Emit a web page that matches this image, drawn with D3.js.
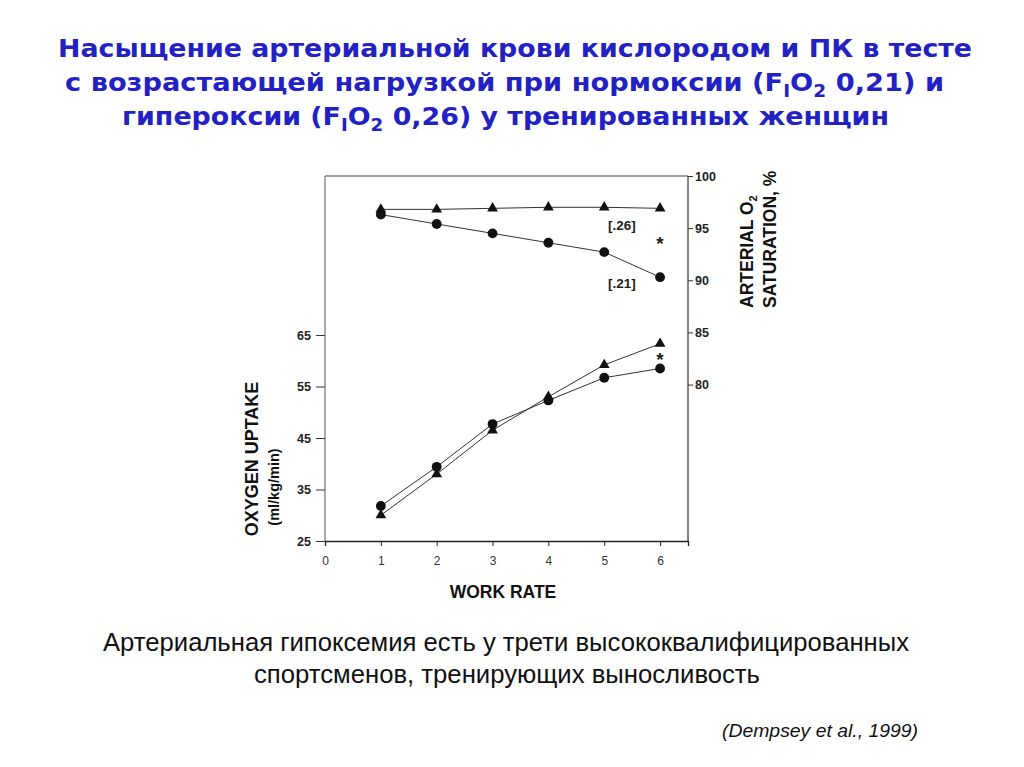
<!DOCTYPE html>
<html><head><meta charset="utf-8">
<script src="https://cdn.jsdelivr.net/npm/d3@7"></script>
<style>
html,body{margin:0;padding:0;background:#fff;}
svg{display:block;}
</style></head>
<body>
<svg id="chart" width="1024" height="767"></svg>
<script>
// ---- data ----
const workRate = [1, 2, 3, 4, 5, 6];
const xTicks = [0, 1, 2, 3, 4, 5, 6];
const leftTicks = [25, 35, 45, 55, 65];
const rightTicks = [80, 85, 90, 95, 100];
const sat26 = [96.8, 96.8, 96.9, 97.0, 97.0, 96.9];
const sat21 = [96.3, 95.4, 94.5, 93.6, 92.7, 90.3];
const vo2_21 = [31.8, 39.4, 47.7, 52.3, 56.7, 58.5];
const vo2_26 = [30.0, 38.0, 46.5, 53.0, 59.2, 63.3];
const titleLines = [
  [{t:"Насыщение артериальной крови кислородом и ПК в тесте"}],
  [{t:"с возрастающей нагрузкой при нормоксии (F"},{t:"I",sub:true},{t:"O"},{t:"2",sub:true},{t:" 0,21) и"}],
  [{t:"гипероксии (F"},{t:"I",sub:true},{t:"O"},{t:"2",sub:true},{t:" 0,26) у тренированных женщин"}]
];
const captionLines = ["Артериальная гипоксемия есть у трети высококвалифицированных",
                      "спортсменов, тренирующих выносливость"];
const citation = "(Dempsey et al., 1999)";

const svg = d3.select("#chart");
const L = 325, R = 688, T = 176, B = 541;

const x = d3.scaleLinear().domain([0, 6.5]).range([L, R]);
const yL = d3.scaleLinear().domain([25, 65]).range([B, 335]);
const yR = d3.scaleLinear().domain([65, 100]).range([B, T]);

// ---- title ----
const titleColor = "#2222c4";
const tl = [{y:57, x0:58, x1:972}, {y:91, x0:65, x1:944}, {y:125, x0:122, x1:889}];
titleLines.forEach((parts, i) => {
  const t = svg.append("text")
    .attr("x", (tl[i].x0 + tl[i].x1) / 2).attr("y", tl[i].y)
    .attr("text-anchor", "middle")
    .attr("textLength", tl[i].x1 - tl[i].x0)
    .attr("lengthAdjust", "spacingAndGlyphs")
    .style("font-family", "'DejaVu Sans', sans-serif")
    .style("font-weight", "bold").style("font-size", "25px")
    .style("fill", titleColor);
  parts.forEach((p, j) => {
    const s = t.append("tspan").text(p.t);
    if (p.sub) s.attr("dy", 6).style("font-size", "17px");
    else if (j > 0 && parts[j-1].sub) s.attr("dy", -6);
  });
});

// ---- frame ----
const frame = svg.append("g").attr("fill", "none");
frame.append("line").attr("x1", L).attr("x2", R).attr("y1", T).attr("y2", T).attr("stroke-width", 1.1).attr("stroke", "#444");
frame.append("line").attr("x1", L).attr("x2", L).attr("y1", T).attr("y2", B).attr("stroke-width", 1).attr("stroke", "#555");

// ---- axes ----
const axFont = "'Liberation Sans', Arial, sans-serif";
const gx = svg.append("g").attr("transform", `translate(0,${B})`)
  .call(d3.axisBottom(x).tickValues(xTicks).tickSize(5).tickPadding(10).tickFormat(d3.format("d")));
gx.select(".domain").attr("stroke", "#222").attr("stroke-width", 1.3);
gx.selectAll(".tick line").attr("stroke", "#222");
gx.selectAll(".tick text").style("font-family", axFont).style("font-size", "12px").style("fill", "#333");

const gl = svg.append("g").attr("transform", `translate(${L},0)`)
  .call(d3.axisLeft(yL).tickValues(leftTicks).tickSize(9).tickPadding(5));
gl.select(".domain").remove();
gl.selectAll(".tick line").attr("stroke", "#333");
gl.selectAll(".tick text").style("font-family", axFont).style("font-size", "12.5px").style("font-weight", "bold").style("fill", "#222");

const gr = svg.append("g").attr("transform", `translate(${R},0)`)
  .call(d3.axisRight(yR).tickValues(rightTicks).tickSize(5).tickPadding(2));
gr.select(".domain").attr("d", `M0,${B}V${T}`).attr("stroke", "#333").attr("stroke-width", 1.2);
gr.selectAll(".tick line").attr("stroke", "#333");
gr.selectAll(".tick text").style("font-family", axFont).style("font-size", "12.5px").style("font-weight", "bold").style("fill", "#222");

// ---- axis titles ----
svg.append("text").attr("x", 503).attr("y", 598).attr("text-anchor", "middle")
  .style("font-family", axFont).style("font-weight", "bold").style("font-size", "17.5px").style("fill", "#111")
  .text("WORK RATE");

svg.append("text").attr("transform", "translate(258,459) rotate(-90)").attr("text-anchor", "middle")
  .style("font-family", axFont).style("font-weight", "bold").style("font-size", "18px").style("fill", "#111")
  .text("OXYGEN UPTAKE");
svg.append("text").attr("transform", "translate(279,487) rotate(-90)").attr("text-anchor", "middle")
  .style("font-family", axFont).style("font-weight", "bold").style("font-size", "14.5px").style("fill", "#111")
  .text("(ml/kg/min)");

const ra = svg.append("text").attr("transform", "translate(753,308) rotate(-90)").attr("text-anchor", "start")
  .style("font-family", axFont).style("font-weight", "bold").style("font-size", "17.5px").style("fill", "#111");
ra.append("tspan").text("ARTERIAL O");
ra.append("tspan").text("2").attr("dy", 4).style("font-size", "11px");
svg.append("text").attr("transform", "translate(776,308) rotate(-90)").attr("text-anchor", "start")
  .style("font-family", axFont).style("font-weight", "bold").style("font-size", "17.5px").style("fill", "#111")
  .text("SATURATION, %");

// ---- series ----
const series = [
  {vals: sat26, y: yR, shape: "tri"},
  {vals: sat21, y: yR, shape: "circ"},
  {vals: vo2_21, y: yL, shape: "circ"},
  {vals: vo2_26, y: yL, shape: "tri"}
];
const lineGen = (ys) => d3.line().x((d, i) => x(workRate[i])).y(d => ys(d));
series.forEach(s => {
  svg.append("path").datum(s.vals).attr("d", lineGen(s.y))
    .attr("fill", "none").attr("stroke", "#333").attr("stroke-width", 1);
});
const triSym = d3.symbol().type(d3.symbolTriangle).size(50);
const circSym = d3.symbol().type(d3.symbolCircle).size(76);
series.forEach(s => {
  svg.append("g").selectAll("path").data(s.vals).join("path")
    .attr("d", s.shape === "tri" ? triSym : circSym)
    .attr("transform", (d, i) => `translate(${x(workRate[i])},${s.y(d)})`)
    .attr("fill", "#111");
});

// ---- annotations ----
const ann = svg.append("g").style("font-family", axFont).style("font-weight", "bold").style("fill", "#222");
ann.append("text").attr("x", 622).attr("y", 230).attr("text-anchor", "middle").style("font-size", "13.5px").text("[.26]");
ann.append("text").attr("x", 622).attr("y", 288).attr("text-anchor", "middle").style("font-size", "13.5px").text("[.21]");
ann.append("text").attr("x", x(6)).attr("y", 250).attr("text-anchor", "middle").style("font-size", "19px").text("*");
ann.append("text").attr("x", x(6)).attr("y", 366).attr("text-anchor", "middle").style("font-size", "19px").text("*");

// ---- caption ----
const cap = svg.append("g").style("font-family", "'Liberation Sans', Arial, sans-serif").style("fill", "#111");
cap.append("text").attr("x", 506).attr("y", 651).attr("text-anchor", "middle")
  .attr("textLength", 806).attr("lengthAdjust", "spacingAndGlyphs").style("font-size", "25px").text(captionLines[0]);
cap.append("text").attr("x", 507).attr("y", 683).attr("text-anchor", "middle")
  .attr("textLength", 506).attr("lengthAdjust", "spacingAndGlyphs").style("font-size", "25px").text(captionLines[1]);
cap.append("text").attr("x", 820).attr("y", 737).attr("text-anchor", "middle")
  .attr("textLength", 196).attr("lengthAdjust", "spacingAndGlyphs")
  .style("font-size", "19px").style("font-style", "italic").text(citation);
</script>
</body></html>
